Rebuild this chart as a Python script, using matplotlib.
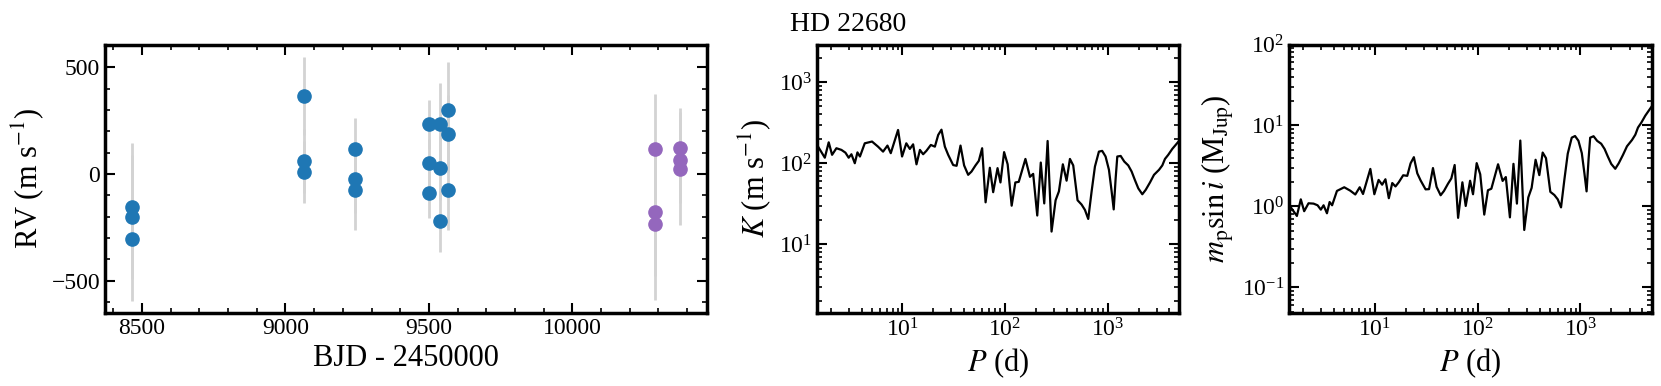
import matplotlib
matplotlib.use('Agg')
import matplotlib.pyplot as plt
import numpy as np
from matplotlib.ticker import MultipleLocator

plt.rcParams['font.family'] = 'serif'
plt.rcParams['font.serif'] = ['Liberation Serif', 'DejaVu Serif']
plt.rcParams['mathtext.fontset'] = 'stix'

# RV data (BJD - 2450000, m/s)
t_inst1 = [8466, 8466, 8466, 9065, 9065, 9065, 9241, 9241, 9241,
           9500, 9500, 9500, 9538, 9538, 9538, 9566, 9566, 9566]
rv_inst1 = [-153, -203, -306, 366, 61, 11, 119, -25, -77,
            233, 53, -91, 234, 30, -223, 300, 189, -77]
err_inst1 = [297, 290, 289, 184, 150, 145, 145, 160, 187,
             115, 110, 117, 191, 150, 144, 223, 180, 187]

t_inst2 = [10289, 10289, 10289, 10374, 10374, 10374]
rv_inst2 = [116, -178, -233, 120, 66, 25]
err_inst2 = [261, 300, 358, 188, 200, 264]

# detection limits vs period
period = [1.47, 1.75, 1.91, 2.06, 2.27, 2.54, 2.78, 2.99, 3.18, 3.43,
          3.64, 3.85, 4.29, 5.05, 5.78, 6.47, 7.14, 7.69, 9.06, 9.91,
          10.9, 11.8, 12.7, 13.7, 14.8, 15.9, 17.1, 18.9, 20.7, 22.3,
          24.0, 25.9, 27.9, 31.2, 33.7, 36.8, 39.9, 43.7, 47.1, 51.5,
          55.5, 59.8, 64.6, 71.1, 76.6, 84.5, 90.2, 97.9, 106, 116,
          126, 136, 158, 175, 188, 206, 223, 241, 260, 284,
          311, 335, 366, 398, 429, 462, 509, 557, 601, 647,
          698, 752, 822, 885, 955, 1030, 1094, 1146, 1197, 1242,
          1340, 1452, 1589, 1714, 1845, 1991, 2178, 2350, 2588, 2831,
          3170, 3412, 3622, 3899, 4266, 4960]
K_lim = [168, 117, 181, 127, 153, 146, 135, 117, 129, 100,
         136, 121, 176, 185, 160, 139, 165, 133, 257, 121,
         176, 150, 171, 97, 146, 129, 142, 168, 160, 223,
         259, 160, 127, 95, 93, 165, 94, 72, 79, 94,
         107, 153, 33, 88, 44, 87, 58, 137, 97, 30,
         58, 59, 113, 68, 74, 22.7, 102, 32, 188, 14.4,
         35, 45, 97, 61, 113, 94, 35, 31, 26.6, 20.6,
         45, 91, 139, 142, 121, 83, 45, 27, 65, 121,
         123, 105, 94, 79, 62, 49, 41.5, 47, 58, 72,
         83, 94, 113, 127, 150, 188]
msini_lim = [1.04, 0.76, 1.22, 0.87, 1.09, 1.08, 1.03, 0.91, 1.03, 0.82,
             1.13, 1.03, 1.55, 1.72, 1.56, 1.40, 1.72, 1.42, 2.90, 1.41,
             2.12, 1.85, 2.16, 1.26, 1.94, 1.76, 1.98, 2.42, 2.38, 3.40,
             4.05, 2.56, 2.09, 1.62, 1.63, 2.97, 1.74, 1.37, 1.55, 1.90,
             2.21, 3.24, 0.72, 1.98, 1.01, 2.07, 1.41, 3.42, 2.49, 0.79,
             1.58, 1.65, 3.31, 2.06, 2.30, 0.73, 3.35, 1.08, 6.50, 0.51,
             1.29, 1.69, 3.76, 2.43, 4.62, 3.94, 1.51, 1.38, 1.22, 0.97,
             2.16, 4.48, 7.06, 7.39, 6.46, 4.54, 2.51, 1.53, 3.74, 7.05,
             7.35, 6.44, 5.94, 5.12, 4.12, 3.34, 2.91, 3.39, 4.32, 5.52,
             6.61, 7.67, 9.41, 10.8, 13.2, 17.4]

fs_label = 22
fs_tick = 17


def style_axis(ax):
    ax.tick_params(which='both', direction='in', top=True, right=True,
                   labelsize=fs_tick)
    ax.tick_params(which='major', length=7, width=1.5)
    ax.tick_params(which='minor', length=3.5, width=1.2)
    for s in ax.spines.values():
        s.set_linewidth(2.5)


fig = plt.figure(figsize=(16.61, 3.86), dpi=100)
ax1 = fig.add_axes([0.0632, 0.1891, 0.3624, 0.6956])
ax2 = fig.add_axes([0.4919, 0.1891, 0.2179, 0.6956])
ax3 = fig.add_axes([0.7761, 0.1891, 0.2185, 0.6956])

ax1.errorbar(t_inst1, rv_inst1, yerr=err_inst1, fmt='o', color='#1f77b4',
             ms=9.5, ecolor='#d3d3d3', elinewidth=2, capsize=0)
ax1.errorbar(t_inst2, rv_inst2, yerr=err_inst2, fmt='o', color='#9467bd',
             ms=9.5, ecolor='#d3d3d3', elinewidth=2, capsize=0)
ax1.set_xlabel('BJD - 2450000', fontsize=fs_label)
ax1.set_ylabel(r'RV (m s$^{-1}$)', fontsize=fs_label)
ax1.xaxis.set_major_locator(MultipleLocator(500))
ax1.xaxis.set_minor_locator(MultipleLocator(100))
ax1.yaxis.set_major_locator(MultipleLocator(500))
ax1.yaxis.set_minor_locator(MultipleLocator(100))
style_axis(ax1)

ax2.plot(period, K_lim, c='k', lw=1.6)
ax2.set_xscale('log')
ax2.set_yscale('log')
ax2.set_xlim(min(period), max(period))
ax2.set_ylim(1.43, 2900)
ax2.set_xlabel(r'$P$ (d)', fontsize=fs_label)
ax2.set_ylabel(r'$K$ (m s$^{-1}$)', fontsize=fs_label)
style_axis(ax2)

ax3.plot(period, msini_lim, c='k', lw=1.6)
ax3.set_xscale('log')
ax3.set_yscale('log')
ax3.set_xlim(min(period), max(period))
ax3.set_ylim(0.048, 100)
ax3.set_xlabel(r'$P$ (d)', fontsize=fs_label)
ax3.set_ylabel(r'$m_{\rm p}\sin i$ (M$_{\rm Jup}$)', fontsize=fs_label)
style_axis(ax3)

fig.text(0.4756, 0.92, 'HD 22680', fontsize=20, va='baseline', ha='left')

plt.savefig('out.png', dpi=100)
